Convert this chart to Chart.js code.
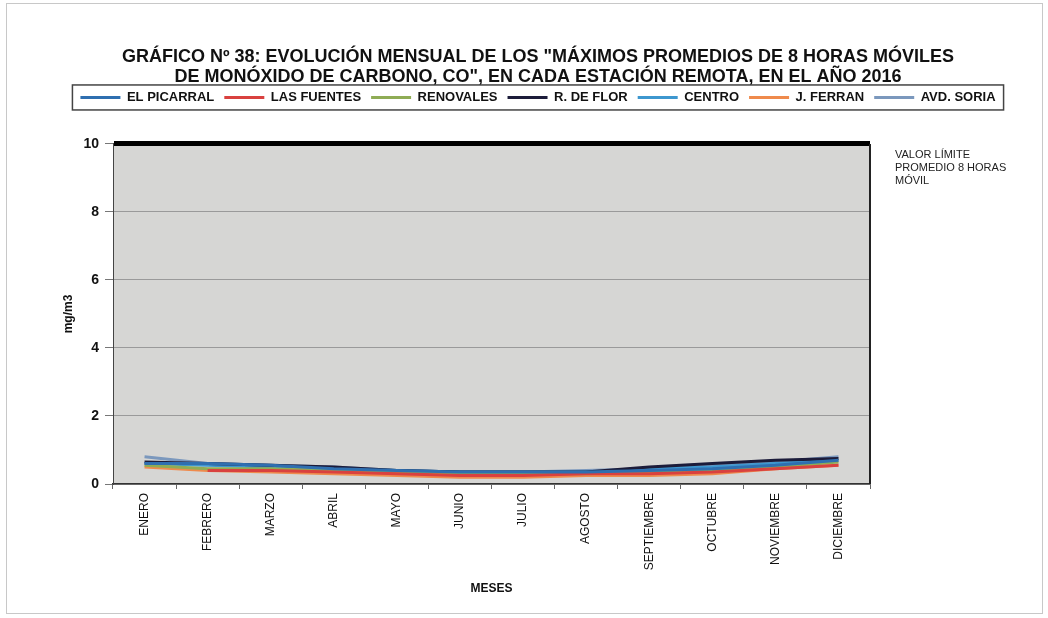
<!DOCTYPE html>
<html>
<head>
<meta charset="utf-8">
<script src="https://cdn.jsdelivr.net/npm/chart.js@4"></script>
<style>
  html, body { margin: 0; padding: 0; background: #fff; }
  canvas { display: block; }
</style>
</head>
<body>
<canvas id="chart" width="1048" height="618"></canvas>
<script>
// Categories and tick labels
const meses = ['ENERO', 'FEBRERO', 'MARZO', 'ABRIL', 'MAYO', 'JUNIO', 'JULIO',
  'AGOSTO', 'SEPTIEMBRE', 'OCTUBRE', 'NOVIEMBRE', 'DICIEMBRE'];
const yTicks = [0, 2, 4, 6, 8, 10];
const valorLimite = 10;

// Monthly max of 8h moving averages, mg/m3
const elPicarral = [0.60, 0.60, 0.55, 0.45, 0.40, 0.35, 0.35, 0.35, 0.40, 0.45, 0.55, 0.70];
const lasFuentes = [null, 0.40, 0.40, 0.35, 0.30, 0.25, 0.25, 0.30, 0.30, 0.35, 0.45, 0.55];
const renovales  = [0.55, 0.45, 0.45, 0.40, 0.35, 0.30, 0.30, 0.30, 0.35, 0.40, 0.50, 0.65];
const rDeFlor    = [0.65, 0.60, 0.55, 0.50, 0.40, 0.35, 0.35, 0.35, 0.50, 0.60, 0.70, 0.75];
const centro     = [0.60, 0.55, 0.50, 0.45, 0.40, 0.35, 0.35, 0.35, 0.45, 0.50, 0.60, 0.70];
const jFerran    = [0.50, 0.40, 0.35, 0.30, 0.25, 0.20, 0.20, 0.25, 0.25, 0.30, 0.45, 0.55];
const avdSoria   = [0.80, 0.60, 0.55, 0.50, 0.40, 0.35, 0.35, 0.40, 0.45, 0.55, 0.65, 0.80];

const series = [
  { label: 'EL PICARRAL', data: elPicarral, color: '#2f6fb0' },
  { label: 'LAS FUENTES', data: lasFuentes, color: '#d9413f' },
  { label: 'RENOVALES', data: renovales, color: '#8fac55' },
  { label: 'R. DE FLOR', data: rDeFlor, color: '#1c1c3a' },
  { label: 'CENTRO', data: centro, color: '#3d97cf' },
  { label: 'J. FERRAN', data: jFerran, color: '#ef8a4c' },
  { label: 'AVD. SORIA', data: avdSoria, color: '#7b98bd' }
];

const FONT = 'Arial, "Liberation Sans", sans-serif';

// page background, outer frame, plot background
const backdrop = {
  id: 'backdrop',
  beforeDraw(chart) {
    const { ctx, chartArea: a } = chart;
    ctx.save();
    ctx.fillStyle = '#fff';
    ctx.fillRect(0, 0, chart.width, chart.height);
    ctx.strokeStyle = '#c8c8c8';
    ctx.lineWidth = 1;
    ctx.strokeRect(6.5, 3.5, chart.width - 12, chart.height - 8);
    ctx.fillStyle = '#d6d6d4';
    ctx.fillRect(a.left, a.top, a.right - a.left, a.bottom - a.top);
    ctx.restore();
  },
  afterDraw(chart) {
    const { ctx, chartArea: a, scales } = chart;
    ctx.save();
    // box around the legend
    const boxes = chart.legend.legendHitBoxes;
    if (boxes && boxes.length) {
      const first = boxes[0], last = boxes[boxes.length - 1];
      ctx.strokeStyle = '#444';
      ctx.lineWidth = 1.5;
      ctx.strokeRect(first.left - 8, first.top - 6,
        last.left + last.width - first.left + 16, first.height + 12);
    }
    // right border of plot
    ctx.strokeStyle = '#222';
    ctx.lineWidth = 2;
    ctx.beginPath();
    ctx.moveTo(a.right, a.top);
    ctx.lineTo(a.right, a.bottom);
    ctx.stroke();
    // limit label
    const y = scales.y.getPixelForValue(valorLimite);
    ctx.fillStyle = '#222';
    ctx.font = '11px ' + FONT;
    ctx.textBaseline = 'middle';
    ['VALOR LÍMITE', 'PROMEDIO 8 HORAS', 'MÓVIL'].forEach((t, i) => {
      ctx.fillText(t, a.right + 25, y + 11 + i * 13);
    });
    ctx.restore();
  }
};

// extra room under the legend
const legendGap = {
  id: 'legendGap',
  beforeInit(chart) {
    const fit = chart.legend.fit;
    chart.legend.fit = function () {
      fit.call(this);
      this.height += 30;
    };
  }
};

new Chart(document.getElementById('chart'), {
  type: 'line',
  data: {
    labels: meses,
    datasets: series.map(s => ({
      label: s.label,
      data: s.data,
      borderColor: s.color,
      backgroundColor: s.color,
      borderWidth: 3,
      pointRadius: 0,
      tension: 0,
      spanGaps: false,
      yAxisID: 'y'
    }))
  },
  options: {
    responsive: false,
    animation: false,
    layout: { padding: { left: 28, right: 0, top: 0, bottom: 18 } },
    plugins: {
      title: {
        display: true,
        text: ['GRÁFICO Nº 38: EVOLUCIÓN MENSUAL DE LOS "MÁXIMOS PROMEDIOS DE 8 HORAS MÓVILES',
               'DE MONÓXIDO DE CARBONO, CO", EN CADA ESTACIÓN REMOTA, EN EL AÑO 2016'],
        color: '#111',
        font: { family: FONT, size: 18, weight: 'bold', lineHeight: 1.11 },
        padding: { top: 47, bottom: -6 }
      },
      legend: {
        position: 'top',
        labels: {
          usePointStyle: true,
          pointStyle: 'line',
          pointStyleWidth: 40,
          boxHeight: 12,
          padding: 10,
          color: '#111',
          font: { family: FONT, size: 13, weight: 'bold' }
        }
      },
      tooltip: { enabled: false }
    },
    scales: {
      x: {
        offset: true,
        afterFit(scale) { scale.height = 116; },
        grid: {
          offset: true,
          drawOnChartArea: false,
          drawTicks: true,
          tickLength: 5,
          color: '#666'
        },
        border: { display: true, color: '#333', width: 1.5 },
        ticks: {
          autoSkip: false,
          minRotation: 90,
          maxRotation: 90,
          padding: 4,
          color: '#111',
          font: { family: FONT, size: 12 }
        },
        title: {
          display: true,
          text: 'MESES',
          color: '#111',
          font: { family: FONT, size: 12, weight: 'bold' },
          padding: { top: 4, bottom: 4 }
        }
      },
      y: {
        position: 'left',
        min: 0,
        max: 10,
        afterFit(scale) { scale.width = 85; },
        afterBuildTicks(scale) { scale.ticks = yTicks.map(v => ({ value: v })); },
        grid: {
          color: ctx => ctx.tick && ctx.tick.value === valorLimite ? '#000' : '#9a9a9a',
          lineWidth: ctx => ctx.tick && ctx.tick.value === valorLimite ? 5 : 1,
          tickColor: '#777',
          tickWidth: 1,
          tickLength: 8,
          drawTicks: true
        },
        border: { display: true, color: '#444', width: 1 },
        ticks: {
          padding: 6,
          color: '#111',
          font: { family: FONT, size: 14, weight: 'bold' }
        },
        title: {
          display: true,
          text: 'mg/m3',
          color: '#111',
          font: { family: FONT, size: 12, weight: 'bold' },
          padding: { top: 33, bottom: 0 }
        }
      },
      // empty right-hand axis that keeps room for the limit label
      yRight: {
        position: 'right',
        display: true,
        afterFit(scale) { scale.width = 178; },
        grid: { display: false },
        ticks: { display: false },
        border: { display: false }
      }
    }
  },
  plugins: [backdrop, legendGap]
});
</script>
</body>
</html>
